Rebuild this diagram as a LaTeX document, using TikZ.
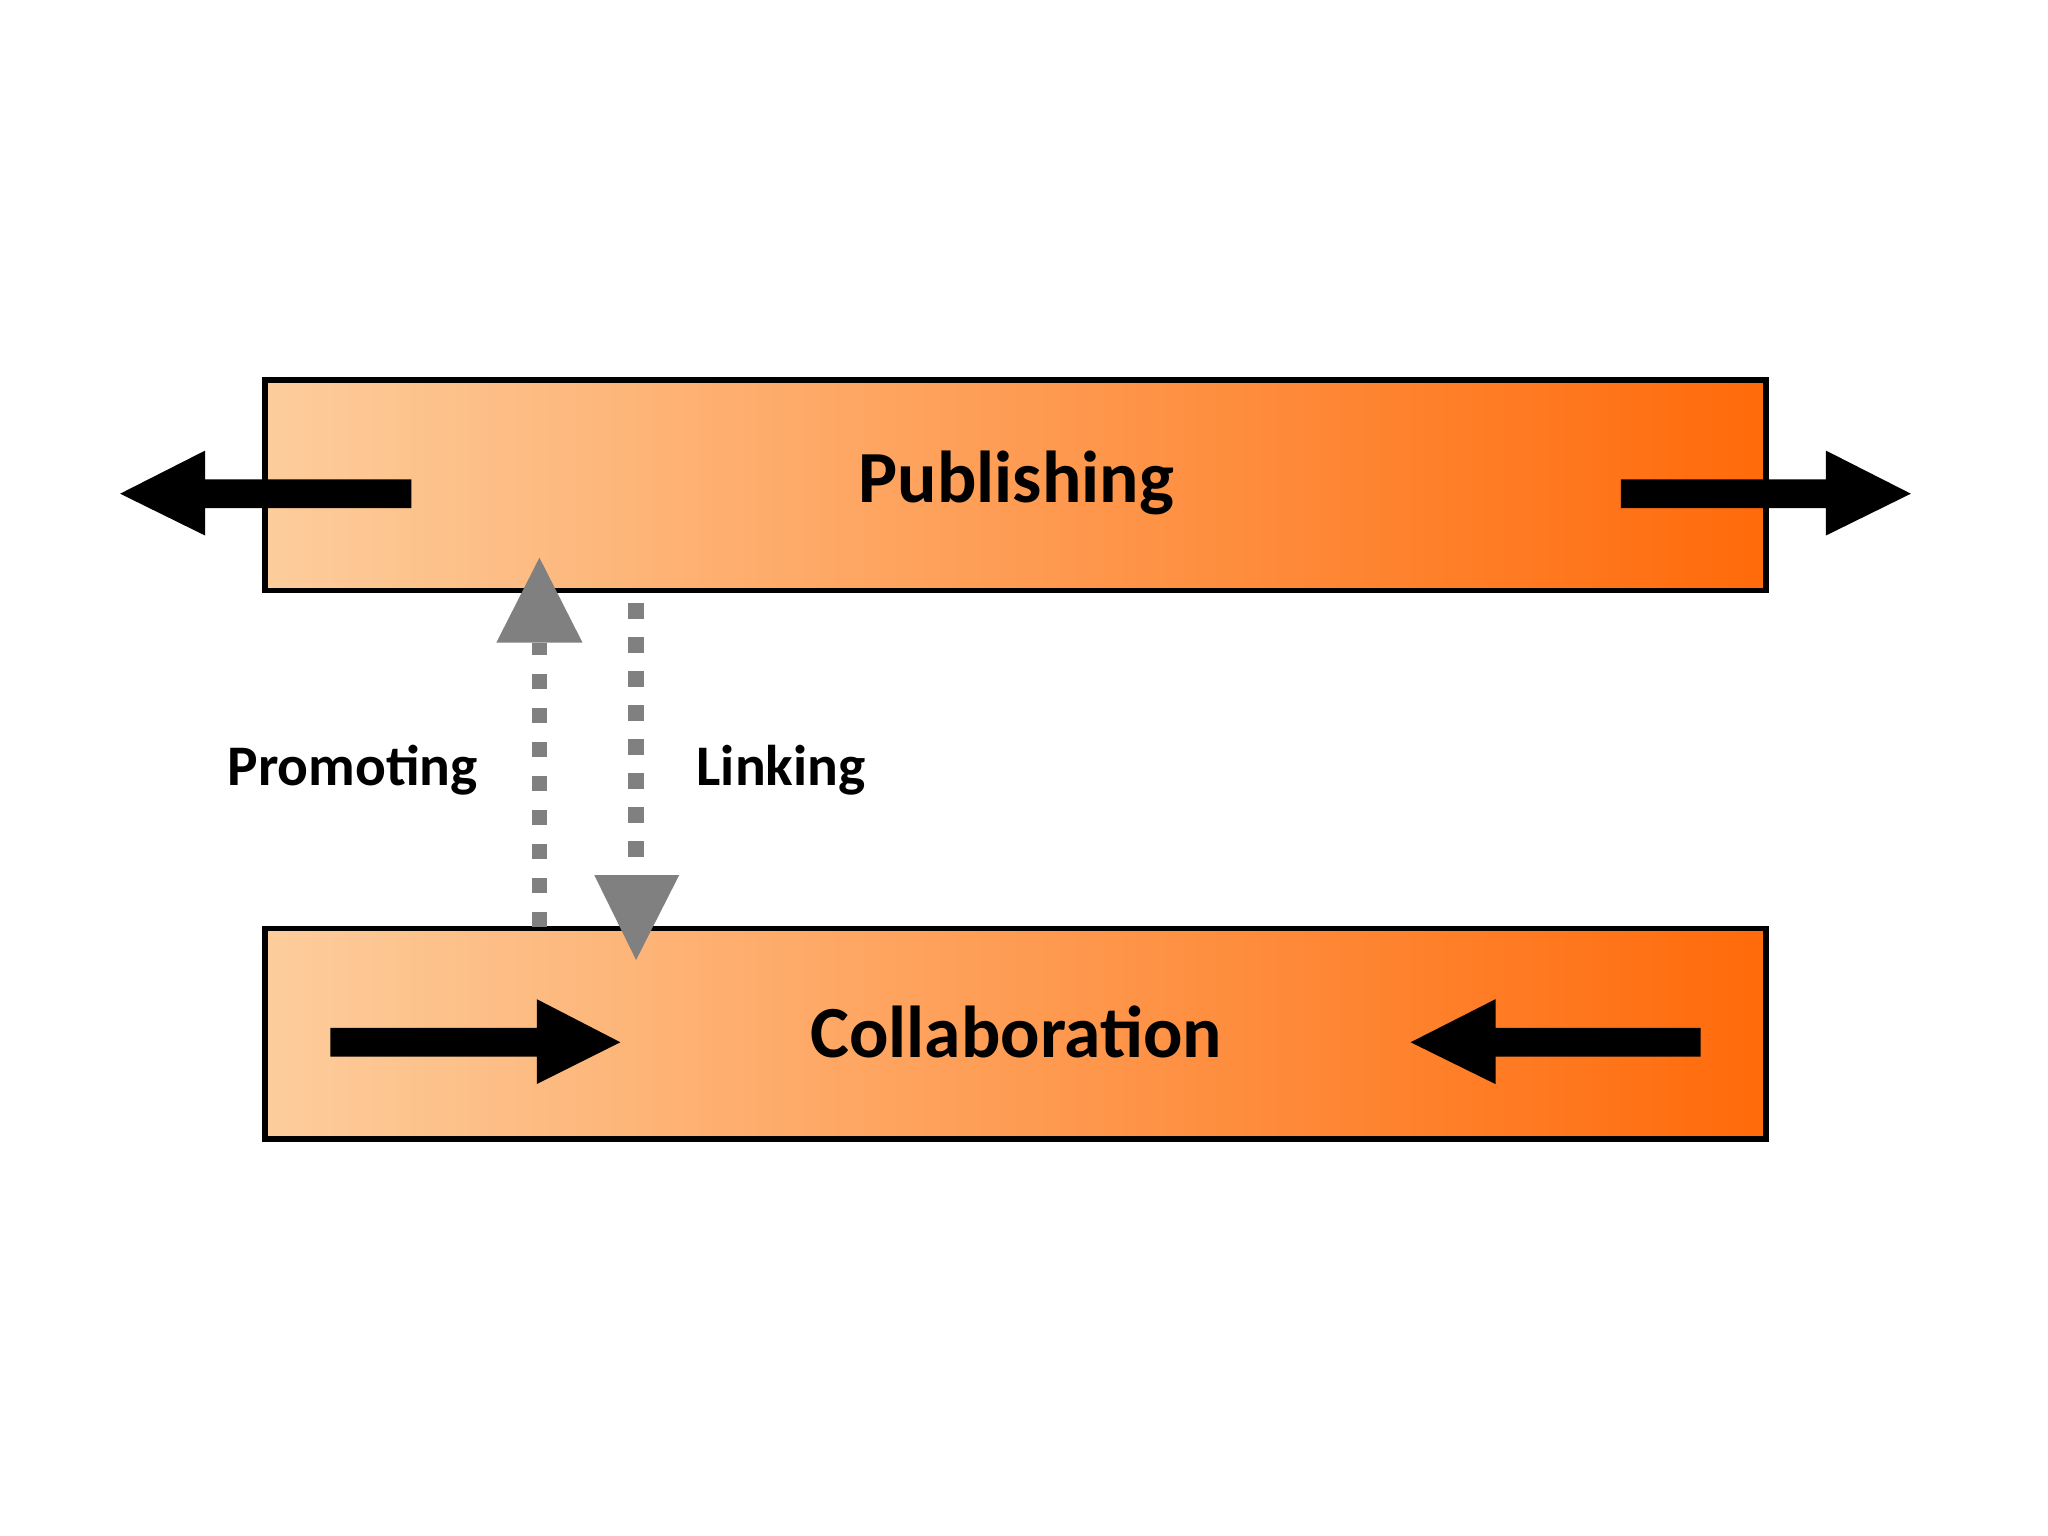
\documentclass[tikz,border=0pt]{standalone}
\usepackage{fontspec}
\setmainfont{Carlito}
\begin{document}
\begin{tikzpicture}[x=0.01cm,y=-0.01cm,
  bar/.style={draw=black,line width=1.2pt,left color=orange!20!white!90!orange,right color=orange!100,shading angle=60},
  blk/.style={fill=black},
  gry/.style={fill=gray},
  dsh/.style={draw=gray,line width=3.4pt,dash pattern=on 3.4pt off 4pt},
  big/.style={font=\bfseries\fontsize{16}{18}\selectfont},
  sm/.style={font=\bfseries\fontsize{12.5}{14}\selectfont}]
\useasboundingbox (0,0) rectangle (1568,1176);
\definecolor{peach}{HTML}{FDCD9C}\definecolor{dorange}{HTML}{FF6A0A}
\shade[left color=peach,right color=dorange] (203,291) rectangle (1352,452);
\draw[line width=1.2pt] (203,291) rectangle (1352,452);
\node[big] (pub) at (778,370) {Publishing};
\shade[left color=peach,right color=dorange] (203,711) rectangle (1352,872);
\draw[line width=1.2pt] (203,711) rectangle (1352,872);
\node[big] (col) at (778,790) {Collaboration};
% black arrows
\fill (315,367) -- (157,367) -- (157,345) -- (92,378) -- (157,410) -- (157,389) -- (315,389) -- cycle;
\fill (1241,367) -- (1398,367) -- (1398,345) -- (1463,378) -- (1398,410) -- (1398,389) -- (1241,389) -- cycle;
\fill (253,787) -- (411,787) -- (411,765) -- (475,798) -- (411,830) -- (411,809) -- (253,809) -- cycle;
\fill (1302,787) -- (1145,787) -- (1145,765) -- (1080,798) -- (1145,830) -- (1145,809) -- (1302,809) -- cycle;
% grey dashed
\coordinate (p1) at (413,710); \coordinate (p2) at (413,492);
\draw[dsh] (p1) -- (p2);
\fill[gray] (380,492) -- (413,427) -- (446,492) -- cycle;
\coordinate (l1) at (487,462); \coordinate (l2) at (487,660);
\draw[dsh] (l1) -- (l2);
\fill[gray] (455,670) -- (487,735) -- (520,670) -- cycle;
\node[sm] (prom) at (270,590) {Promoting};
\node[sm] (link) at (598,590) {Linking};
\end{tikzpicture}
\end{document}
